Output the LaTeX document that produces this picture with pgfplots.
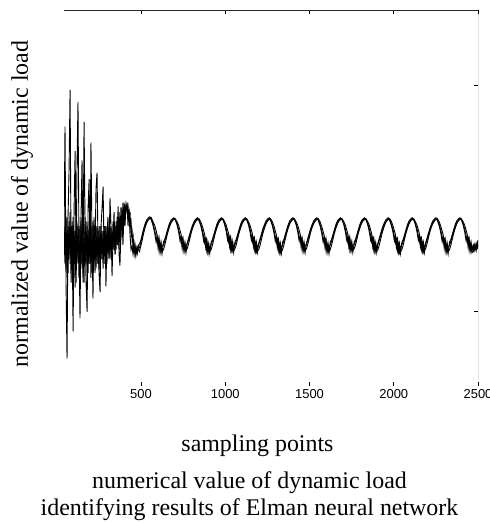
\documentclass[border=0pt]{standalone}
\usepackage{fontspec}
\setmainfont{Liberation Serif}
\newfontfamily\ticksans{Liberation Sans}
\usepackage{pgfplots}
\pgfplotsset{compat=1.18}
\usepackage{pgfplotstable}
\pgfplotstableread{
x a b c
43 -0.45 -0.50 -0.40
49 0.76 -0.30 -0.70
55 -0.90 -0.75 -0.20
61 -1.71 -0.20 -0.85
67 -0.20 -0.80 -0.30
73 0.30 -0.25 -0.60
79 1.15 -0.70 -0.15
85 -0.60 -0.30 -0.90
91 -0.30 -0.85 -0.25
97 -1.42 -0.20 -0.70
103 -0.10 -0.65 -0.35
109 0.50 -0.35 -0.95
115 -0.70 -0.90 -0.20
120 0.30 -0.25 -0.65
126 1.02 -0.70 -0.30
132 -0.50 -0.30 -0.85
138 -1.28 -0.85 -0.30
144 -0.20 -0.20 -0.70
150 0.40 -0.75 -0.25
156 -0.80 -0.35 -0.90
162 0.81 -0.90 -0.35
168 -0.30 -0.20 -0.65
174 -0.90 -0.70 -0.25
180 -1.21 -0.30 -0.80
186 -0.10 -0.80 -0.35
192 0.20 -0.25 -0.70
198 -0.70 -0.65 -0.30
203 0.59 -0.30 -0.85
209 -0.40 -0.80 -0.30
215 -1.07 -0.25 -0.65
221 -0.20 -0.70 -0.30
227 -0.60 -0.35 -0.80
233 0.10 -0.75 -0.30
239 0.27 -0.30 -0.70
245 -0.50 -0.70 -0.35
251 -0.80 -0.30 -0.75
257 -1.00 -0.75 -0.30
263 -0.30 -0.30 -0.65
269 -0.10 -0.65 -0.35
275 0.12 -0.35 -0.75
281 -0.60 -0.70 -0.30
287 -0.30 -0.30 -0.60
292 -0.94 -0.65 -0.35
298 -0.40 -0.30 -0.70
304 -0.20 -0.60 -0.30
310 -0.60 -0.35 -0.65
316 0.00 -0.65 -0.30
322 -0.30 -0.30 -0.60
328 -0.83 -0.60 -0.35
334 -0.45 -0.25 -0.55
340 -0.15 -0.55 -0.25
346 -0.60 -0.30 -0.60
352 -0.30 -0.55 -0.25
358 -0.50 -0.20 -0.50
364 -0.09 -0.50 -0.20
370 -0.60 -0.15 -0.55
375 -0.72 -0.45 -0.20
381 -0.35 -0.10 -0.45
387 -0.20 -0.35 -0.10
393 -0.50 -0.05 -0.35
400 -0.10 -0.25 -0.05
405 -0.30 -0.10 -0.20
411 -0.08 -0.15 -0.06
417 -0.06 -0.08 -0.12
423 -0.30 -0.20 -0.08
429 -0.12 -0.14 -0.25
435 -0.40 -0.30 -0.15
441 -0.55 -0.25 -0.40
447 -0.51 -0.45 -0.35
453 -0.60 -0.40 -0.55
459 -0.52 -0.58 -0.48
465 -0.62 -0.50 -0.60
471 -0.55 -0.60 -0.52
478 -0.58 -0.52 -0.59
485 -0.52 -0.55 -0.50
491 -0.53 -0.57 -0.49
499 -0.47 -0.51 -0.45
507 -0.41 -0.45 -0.39
515 -0.35 -0.38 -0.33
525 -0.29 -0.31 -0.27
535 -0.25 -0.26 -0.23
545 -0.22 -0.23 -0.21
553 -0.21 -0.22 -0.20
561 -0.23 -0.21 -0.23
571 -0.27 -0.25 -0.29
581 -0.34 -0.29 -0.37
589 -0.41 -0.34 -0.46
595 -0.48 -0.39 -0.41
601 -0.43 -0.46 -0.53
607 -0.56 -0.42 -0.46
613 -0.48 -0.54 -0.58
619 -0.58 -0.47 -0.50
625 -0.51 -0.57 -0.59
633 -0.50 -0.55 -0.47
641 -0.46 -0.50 -0.44
649 -0.41 -0.44 -0.39
657 -0.36 -0.38 -0.34
667 -0.30 -0.32 -0.28
677 -0.26 -0.27 -0.24
687 -0.23 -0.24 -0.22
695 -0.22 -0.23 -0.21
703 -0.23 -0.22 -0.23
713 -0.27 -0.25 -0.28
723 -0.33 -0.29 -0.36
731 -0.40 -0.34 -0.45
737 -0.47 -0.38 -0.41
743 -0.43 -0.45 -0.52
749 -0.55 -0.42 -0.46
755 -0.48 -0.53 -0.57
761 -0.57 -0.47 -0.50
767 -0.51 -0.56 -0.58
774 -0.49 -0.54 -0.48
782 -0.45 -0.49 -0.43
790 -0.40 -0.43 -0.38
798 -0.35 -0.37 -0.33
808 -0.30 -0.31 -0.28
818 -0.26 -0.27 -0.24
828 -0.23 -0.24 -0.22
836 -0.22 -0.23 -0.21
844 -0.23 -0.22 -0.24
854 -0.28 -0.25 -0.29
864 -0.34 -0.30 -0.37
872 -0.41 -0.35 -0.46
878 -0.48 -0.39 -0.42
884 -0.44 -0.46 -0.53
890 -0.56 -0.43 -0.47
896 -0.49 -0.54 -0.58
902 -0.58 -0.48 -0.51
908 -0.52 -0.57 -0.59
916 -0.50 -0.55 -0.47
924 -0.46 -0.50 -0.44
932 -0.41 -0.44 -0.39
940 -0.36 -0.38 -0.34
950 -0.30 -0.32 -0.28
960 -0.26 -0.27 -0.24
970 -0.23 -0.24 -0.22
978 -0.22 -0.23 -0.21
986 -0.23 -0.22 -0.23
996 -0.27 -0.25 -0.28
1006 -0.33 -0.29 -0.36
1014 -0.40 -0.34 -0.45
1020 -0.47 -0.38 -0.41
1026 -0.42 -0.45 -0.52
1032 -0.55 -0.41 -0.46
1038 -0.47 -0.53 -0.56
1044 -0.56 -0.46 -0.50
1050 -0.50 -0.56 -0.58
1057 -0.50 -0.54 -0.47
1065 -0.46 -0.50 -0.44
1073 -0.41 -0.44 -0.39
1081 -0.36 -0.38 -0.34
1091 -0.30 -0.32 -0.28
1101 -0.26 -0.27 -0.24
1111 -0.23 -0.24 -0.22
1119 -0.22 -0.23 -0.21
1127 -0.23 -0.22 -0.23
1137 -0.27 -0.25 -0.28
1147 -0.33 -0.29 -0.36
1155 -0.40 -0.34 -0.45
1161 -0.47 -0.38 -0.41
1167 -0.43 -0.45 -0.52
1173 -0.55 -0.42 -0.46
1179 -0.48 -0.53 -0.57
1185 -0.57 -0.47 -0.50
1191 -0.51 -0.56 -0.58
1199 -0.49 -0.55 -0.48
1207 -0.45 -0.50 -0.43
1215 -0.40 -0.44 -0.38
1223 -0.35 -0.38 -0.33
1233 -0.30 -0.32 -0.28
1243 -0.26 -0.27 -0.24
1253 -0.23 -0.24 -0.22
1261 -0.22 -0.23 -0.21
1269 -0.23 -0.22 -0.24
1279 -0.28 -0.25 -0.29
1289 -0.34 -0.30 -0.37
1297 -0.41 -0.35 -0.46
1303 -0.48 -0.39 -0.42
1309 -0.44 -0.46 -0.53
1315 -0.56 -0.43 -0.47
1321 -0.49 -0.54 -0.58
1327 -0.58 -0.48 -0.51
1333 -0.52 -0.57 -0.59
1340 -0.50 -0.55 -0.47
1348 -0.46 -0.50 -0.44
1356 -0.41 -0.44 -0.39
1364 -0.36 -0.38 -0.34
1374 -0.30 -0.32 -0.28
1384 -0.26 -0.27 -0.24
1394 -0.23 -0.24 -0.22
1402 -0.22 -0.23 -0.21
1410 -0.23 -0.22 -0.23
1420 -0.27 -0.25 -0.28
1430 -0.33 -0.29 -0.36
1438 -0.40 -0.34 -0.45
1444 -0.47 -0.38 -0.41
1450 -0.43 -0.45 -0.52
1456 -0.55 -0.42 -0.46
1462 -0.48 -0.53 -0.57
1468 -0.57 -0.47 -0.50
1474 -0.51 -0.56 -0.58
1482 -0.49 -0.54 -0.48
1490 -0.45 -0.49 -0.43
1498 -0.40 -0.43 -0.38
1506 -0.35 -0.37 -0.33
1516 -0.30 -0.31 -0.28
1526 -0.26 -0.27 -0.24
1536 -0.23 -0.24 -0.22
1544 -0.22 -0.23 -0.21
1552 -0.23 -0.22 -0.24
1562 -0.28 -0.25 -0.29
1572 -0.34 -0.30 -0.37
1580 -0.41 -0.35 -0.46
1586 -0.48 -0.39 -0.42
1592 -0.44 -0.46 -0.53
1598 -0.56 -0.43 -0.47
1604 -0.49 -0.54 -0.58
1610 -0.58 -0.48 -0.51
1616 -0.52 -0.57 -0.59
1623 -0.50 -0.55 -0.47
1631 -0.46 -0.50 -0.44
1639 -0.41 -0.44 -0.39
1647 -0.36 -0.38 -0.34
1657 -0.30 -0.32 -0.28
1667 -0.26 -0.27 -0.24
1677 -0.23 -0.24 -0.22
1685 -0.22 -0.23 -0.21
1693 -0.23 -0.22 -0.23
1703 -0.27 -0.25 -0.28
1713 -0.33 -0.29 -0.36
1721 -0.40 -0.34 -0.45
1727 -0.47 -0.38 -0.41
1733 -0.42 -0.45 -0.52
1739 -0.55 -0.41 -0.46
1745 -0.47 -0.53 -0.56
1751 -0.56 -0.46 -0.50
1757 -0.50 -0.56 -0.58
1765 -0.50 -0.54 -0.47
1773 -0.46 -0.50 -0.44
1781 -0.41 -0.44 -0.39
1789 -0.36 -0.38 -0.34
1799 -0.30 -0.32 -0.28
1809 -0.26 -0.27 -0.24
1819 -0.23 -0.24 -0.22
1827 -0.22 -0.23 -0.21
1835 -0.23 -0.22 -0.23
1845 -0.27 -0.25 -0.28
1855 -0.33 -0.29 -0.36
1863 -0.40 -0.34 -0.45
1869 -0.47 -0.38 -0.41
1875 -0.43 -0.45 -0.52
1881 -0.55 -0.42 -0.46
1887 -0.48 -0.53 -0.57
1893 -0.57 -0.47 -0.50
1899 -0.51 -0.56 -0.58
1906 -0.49 -0.55 -0.48
1914 -0.45 -0.50 -0.43
1922 -0.40 -0.44 -0.38
1930 -0.35 -0.38 -0.33
1940 -0.30 -0.32 -0.28
1950 -0.26 -0.27 -0.24
1960 -0.23 -0.24 -0.22
1968 -0.22 -0.23 -0.21
1976 -0.23 -0.22 -0.24
1986 -0.28 -0.25 -0.29
1996 -0.34 -0.30 -0.37
2004 -0.41 -0.35 -0.46
2010 -0.48 -0.39 -0.42
2016 -0.44 -0.46 -0.53
2022 -0.56 -0.43 -0.47
2028 -0.49 -0.54 -0.58
2034 -0.58 -0.48 -0.51
2040 -0.52 -0.57 -0.59
2048 -0.50 -0.55 -0.47
2056 -0.46 -0.50 -0.44
2064 -0.41 -0.44 -0.39
2072 -0.36 -0.38 -0.34
2082 -0.30 -0.32 -0.28
2092 -0.26 -0.27 -0.24
2102 -0.23 -0.24 -0.22
2110 -0.22 -0.23 -0.21
2118 -0.23 -0.22 -0.23
2128 -0.27 -0.25 -0.28
2138 -0.33 -0.29 -0.36
2146 -0.40 -0.34 -0.45
2152 -0.47 -0.38 -0.41
2158 -0.43 -0.45 -0.52
2164 -0.55 -0.42 -0.46
2170 -0.48 -0.53 -0.57
2176 -0.57 -0.47 -0.50
2182 -0.51 -0.56 -0.58
2189 -0.49 -0.54 -0.48
2197 -0.45 -0.49 -0.43
2205 -0.40 -0.43 -0.38
2213 -0.35 -0.37 -0.33
2223 -0.30 -0.31 -0.28
2233 -0.26 -0.27 -0.24
2243 -0.23 -0.24 -0.22
2251 -0.22 -0.23 -0.21
2259 -0.23 -0.22 -0.24
2269 -0.28 -0.25 -0.29
2279 -0.34 -0.30 -0.37
2287 -0.41 -0.35 -0.46
2293 -0.48 -0.39 -0.42
2299 -0.44 -0.46 -0.53
2305 -0.56 -0.43 -0.47
2311 -0.49 -0.54 -0.58
2317 -0.58 -0.48 -0.51
2323 -0.52 -0.57 -0.59
2331 -0.50 -0.55 -0.47
2339 -0.46 -0.50 -0.44
2347 -0.41 -0.44 -0.39
2355 -0.36 -0.38 -0.34
2365 -0.30 -0.32 -0.28
2375 -0.26 -0.27 -0.24
2385 -0.23 -0.24 -0.22
2393 -0.22 -0.23 -0.21
2401 -0.23 -0.22 -0.23
2411 -0.27 -0.25 -0.28
2421 -0.33 -0.29 -0.36
2429 -0.40 -0.34 -0.45
2435 -0.47 -0.38 -0.41
2441 -0.43 -0.45 -0.52
2447 -0.55 -0.42 -0.46
2453 -0.48 -0.53 -0.57
2459 -0.57 -0.47 -0.50
2465 -0.51 -0.56 -0.58
2473 -0.55 -0.50 -0.57
2481 -0.49 -0.56 -0.52
2489 -0.56 -0.48 -0.55
2497 -0.47 -0.53 -0.50
2500 -0.45 -0.50 -0.47
}\loaddata
\begin{document}
\begin{tikzpicture}
\path[use as bounding box] (-64bp,-137bp) rectangle (426bp,386bp);
\begin{axis}[
  at={(0bp,0bp)}, anchor=south west,
  scale only axis, width=414bp, height=376bp,
  xmin=43, xmax=2500, ymin=-2, ymax=2,
  xtick={500,1000,1500,2000,2500},
  ytick={-1.2,1.2}, yticklabels={},
  ytick pos=right,
  axis line style={draw=none},
  major tick length=4bp,
  tick style={black, line width=0.6bp},
  xticklabel style={font=\ticksans\fontsize{13}{13}\selectfont},
  /pgf/number format/assume math mode=true,
  /pgf/number format/1000 sep={},
]
\addplot[black, line width=0.9bp] table[x=x,y=a]{\loaddata};
\addplot[black, line width=0.9bp] table[x=x,y=b]{\loaddata};
\addplot[black, line width=0.9bp] table[x=x,y=c]{\loaddata};
\draw[line width=0.8bp, black!85] (rel axis cs:0,0) -- (rel axis cs:1,0) -- (rel axis cs:1,1) -- (rel axis cs:0,1);
\end{axis}
\node[font=\fontsize{24}{27}\selectfont] at (193.5bp,-60bp) {sampling points};
\node[align=center, font=\fontsize{24}{27}\selectfont] at (185.5bp,-110.5bp) {numerical value of dynamic load\\identifying results of Elman neural network};
\node[rotate=90, font=\fontsize{24}{27}\selectfont] at (-42bp,182bp) {normalized value of dynamic load};
\end{tikzpicture}
\end{document}
